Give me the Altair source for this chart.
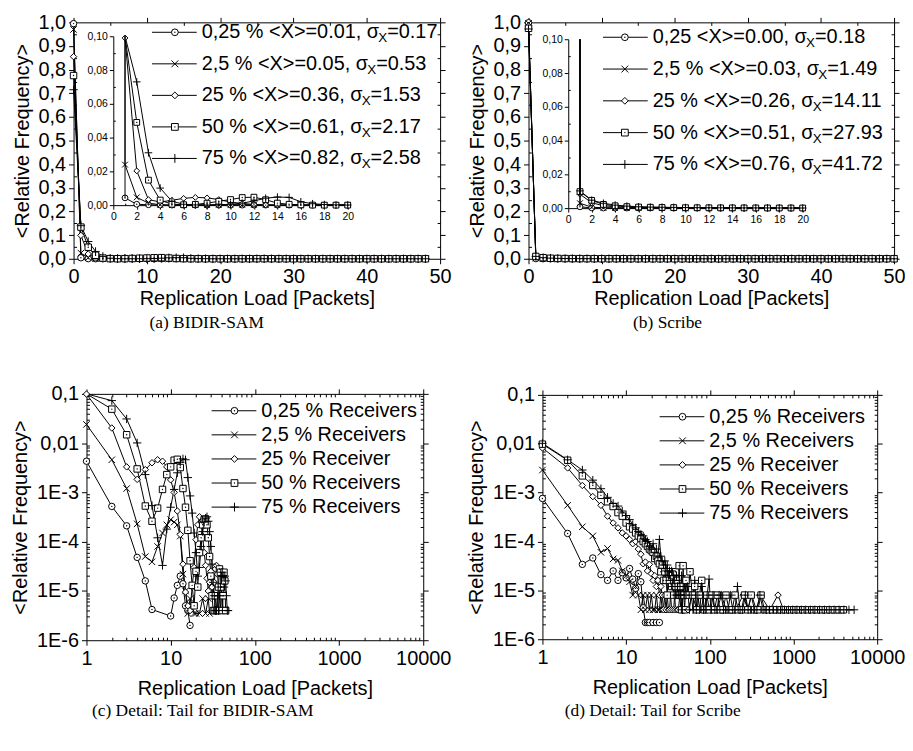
import altair as alt
import pandas as pd

FONT = "Liberation Sans"
SERIF = "Liberation Serif"
W, H = 903, 735

SERIES = ["0,25 %", "2,5 %", "25 %", "50 %", "75 %"]
SHAPES = ["circle", "M-1,-1L1,1M-1,1L1,-1", "diamond", "square", "M-1.3,0L1.3,0M0,-1.3L0,1.3"]
DOTTED = ["0,25 %", "50 %"]

# ---------------- BIDIR-SAM: relative frequency for replication load 0..48 ----------------
BIDIR_LOAD = list(range(49))
BIDIR_S1 = [0.9947, 4.3e-3, 5.2e-4, 2.1e-4, 4.8e-5, 1.6e-5, 4.2e-6, 0, 0, 0,
            3.1e-6, 7.2e-6, 1.3e-5, 2.0e-5, 1.4e-5, 5e-6, 4e-6, 2e-6, 0, 0,
            0, 0, 0, 0, 0, 0, 0, 0, 0, 0,
            0, 0, 0, 0, 0, 0, 0, 0, 0, 0,
            0, 0, 0, 0, 0, 0, 0, 0, 0]
BIDIR_S2 = [0.970, 2.4e-2, 4.6e-3, 1.2e-3, 2.3e-4, 5e-5, 3.9e-5, 8e-5, 1.5e-4, 2.2e-4,
            2.8e-4, 2.5e-4, 2.2e-4, 1.3e-4, 2.2e-5, 1e-5, 3.5e-6, 7e-6, 0, 3.5e-6,
            3.5e-6, 0, 3.5e-6, 0, 7e-6, 0, 3.5e-6, 0, 7e-6, 3.5e-6,
            0, 0, 0, 0, 0, 0, 0, 0, 0, 0,
            0, 0, 0, 0, 0, 0, 0, 0, 0]
BIDIR_S3 = [0.855, 0.099, 0.0203, 0.0033, 0.00184, 0.0029, 0.0040, 0.0046, 0.0043, 0.0033,
            0.0018, 0.0010, 4.2e-4, 1.4e-4, 3.5e-5, 9.5e-6, 5e-6, 4e-6, 1.2e-5, 3e-5,
            1.1e-4, 2.2e-4, 3.2e-4, 2.5e-4, 1.3e-4, 6e-5, 3.3e-5, 1.8e-5, 1e-5, 1.5e-5,
            2.5e-5, 1.2e-5, 8e-6, 1.5e-5, 2.8e-5, 3.3e-5, 2.2e-5, 1.2e-5, 8e-6, 4e-6,
            1.2e-5, 8e-6, 4e-6, 0, 0, 0, 0, 0, 0]
BIDIR_S4 = [0.775, 0.134, 0.049, 0.0148, 0.0030, 5.3e-4, 2.6e-4, 4.8e-4, 1.15e-3, 2.3e-3,
            3.3e-3, 4.5e-3, 4.7e-3, 3.2e-3, 1.2e-3, 5e-4, 1.7e-4, 4.1e-5, 1.3e-5, 5e-6,
            2.5e-5, 1.2e-5, 6e-5, 1.2e-4, 2.2e-4, 2.8e-4, 2.9e-4, 2.2e-4, 1.2e-4, 5e-5,
            2e-5, 8e-6, 4e-6, 4e-6, 8e-6, 4e-6, 4e-6, 1.2e-5, 2.8e-5, 2.4e-5,
            1.2e-5, 4e-6, 8e-6, 2.4e-5, 1.6e-5, 4e-6, 0, 0, 0]
BIDIR_S5 = [0.715, 0.14, 0.073, 0.031, 0.0101, 2.3e-3, 5.4e-4, 1.2e-4, 3.3e-5, 1.8e-4,
            5e-4, 1.15e-3, 2.5e-3, 4.1e-3, 4.8e-3, 4.6e-3, 2.0e-3, 8.5e-4, 3.8e-4, 1.5e-4,
            6e-5, 2e-5, 3e-5, 8e-5, 1.6e-4, 2.5e-4, 3e-4, 3.2e-4, 2.6e-4, 1.6e-4,
            8e-5, 3.5e-5, 1.5e-5, 8e-6, 4e-6, 4e-6, 8e-6, 4e-6, 8e-6, 1.2e-5,
            2e-5, 2.4e-5, 2e-5, 1.2e-5, 2e-5, 1.6e-5, 8e-6, 4e-6, 4e-6]

# ---------------- Scribe: replication load 0..50, plus sparse tails ----------------
SCRIBE_LOAD = list(range(51))
SCRIBE_S1 = [0.9985, 7.6e-4, 1.46e-4, 3.4e-5, 4.6e-5, 2.1e-5, 1.6e-5, 2.5e-5, 1.6e-5, 2.3e-5,
             1.8e-5, 2.8e-5, 1.7e-5, 1.1e-5, 2.2e-5, 1.5e-5, 4.4e-6, 2.2e-6, 2.2e-6, 2.2e-6,
             0, 2.2e-6, 0, 2.2e-6, 0, 2.2e-6, 0, 0, 0, 0,
             0, 0, 0, 0, 0, 0, 0, 0, 0, 0,
             0, 0, 0, 0, 0, 0, 0, 0, 0, 0, 0]
SCRIBE_S2 = [0.9958, 2.9e-3, 5.5e-4, 2.0e-4, 1.3e-4, 6e-5, 7.2e-5, 4.4e-5, 4.1e-5, 2.5e-5,
             2.0e-5, 1.5e-5, 8e-6, 1.2e-5, 8e-6, 4e-6, 8e-6, 4e-6, 8e-6, 4e-6,
             8e-6, 4e-6, 4e-6, 8e-6, 4e-6, 4e-6, 8e-6, 4e-6, 4e-6, 0,
             4e-6, 0, 0, 4e-6, 0, 0, 4e-6, 0, 0, 0,
             0, 0, 0, 0, 0, 0, 0, 0, 0, 0, 0]
SCRIBE_S3 = [0.985, 8.2e-3, 3.2e-3, 1.4e-3, 8.3e-4, 5.5e-4, 3.3e-4, 2.4e-4, 1.9e-4, 1.5e-4,
             1.3e-4, 1.1e-4, 9e-5, 1.0e-4, 7e-5, 5.5e-5, 3.5e-5, 3.8e-5, 2.5e-5, 3.4e-5,
             2.2e-5, 1.6e-5, 2.0e-5, 1.2e-5, 1.6e-5, 8e-6, 1.2e-5, 8e-6, 4e-6, 8e-6,
             4e-6, 8e-6, 4e-6, 4e-6, 8e-6, 4e-6, 0, 4e-6, 8e-6, 4e-6,
             0, 4e-6, 4e-6, 0, 8e-6, 4e-6, 0, 4e-6, 0, 4e-6, 0]
SCRIBE_S4 = [0.975, 9.8e-3, 4.6e-3, 2.2e-3, 1.4e-3, 8.8e-4, 6.5e-4, 5.2e-4, 3.9e-4, 3.3e-4,
             2.4e-4, 2.0e-4, 1.8e-4, 1.5e-4, 1.3e-4, 1.15e-4, 1.0e-4, 9e-5, 8e-5, 7e-5,
             6.5e-5, 6e-5, 4.5e-5, 5e-5, 4e-5, 3.5e-5, 2.4e-5, 3.3e-5, 1.6e-5, 2.4e-5,
             1.6e-5, 8e-6, 2.4e-5, 1.6e-5, 2.4e-5, 1.2e-5, 2.0e-5, 8e-6, 1.2e-5, 2.4e-5,
             1.6e-5, 8e-6, 1.2e-5, 3.2e-5, 8e-6, 1.2e-5, 4e-6, 8e-6, 3.2e-5, 8e-6, 4e-6]
SCRIBE_S5 = [0.972, 1.02e-2, 4.7e-3, 2.9e-3, 1.8e-3, 1.2e-3, 8e-4, 6e-4, 5.3e-4, 4.2e-4,
             3.4e-4, 2.8e-4, 2.2e-4, 1.9e-4, 1.6e-4, 1.4e-4, 1.3e-4, 1.1e-4, 1.0e-4, 8e-5,
             7e-5, 9e-5, 6e-5, 7e-5, 5e-5, 1.1e-4, 5e-5, 4e-5, 3.3e-5, 4e-5,
             2.5e-5, 3.3e-5, 2e-5, 2.5e-5, 1.6e-5, 2.5e-5, 1.2e-5, 2e-5, 1.6e-5, 8e-6,
             2e-5, 1.2e-5, 8e-6, 1.6e-5, 1.2e-5, 8e-6, 2e-5, 4e-6, 1.2e-5, 8e-6, 1.6e-5]

TAIL_S3_X = [55, 62, 70, 78, 86, 95, 108, 122, 138, 156, 178, 205, 250, 285, 316, 360, 400,
             520, 653, 760, 880, 1020, 1180, 1350]
TAIL_S3_Y = [4e-6, 8e-6, 4e-6, 4e-6, 8e-6, 4e-6, 4e-6, 4e-6, 8e-6, 4e-6, 4e-6, 4e-6, 8e-6,
             4e-6, 8e-6, 4e-6, 8e-6, 4e-6, 8e-6, 4e-6, 4e-6, 4e-6, 4e-6, 4e-6]
TAIL_S4_X = [52, 55, 58, 62, 66, 70, 75, 80, 86, 92, 99, 106, 114, 123, 133, 144, 156, 170,
             185, 200, 218, 238, 260, 285, 312, 342, 375, 410, 450, 500, 560, 630, 710, 800,
             900, 1010, 1140, 1290, 1460, 1650, 1870, 2120, 2400, 2720, 3080, 3500, 3950]
TAIL_S4_Y = [1.6e-5, 8e-6, 2.4e-5, 8e-6, 1.2e-5, 4e-6, 8e-6, 1.6e-5, 4e-6, 8e-6,
             4e-6, 8e-6, 4e-6, 8e-6, 4e-6, 4e-6, 8e-6, 4e-6, 4e-6, 8e-6,
             4e-6, 4e-6, 8e-6, 4e-6, 8e-6, 4e-6, 4e-6, 8e-6, 4e-6, 4e-6,
             4e-6, 4e-6, 4e-6, 4e-6, 4e-6, 4e-6, 4e-6, 4e-6, 4e-6, 4e-6,
             4e-6, 4e-6, 4e-6, 4e-6, 4e-6, 4e-6, 4e-6]
TAIL_S5_X = [52, 54, 57, 60, 63, 66, 69, 72, 76, 80, 84, 88, 93, 98, 103, 109, 115, 122, 129,
             137, 146, 155, 165, 176, 188, 200, 214, 230, 247, 266, 287, 310, 336, 365, 397,
             433, 473, 518, 570, 630, 700, 780, 870, 980, 1100, 1240, 1400, 1590, 1800, 2050,
             2340, 2670, 3050, 3500, 4000, 4600, 5300]
TAIL_S5_Y = [8e-6, 1.2e-5, 4e-6, 8e-6, 4e-6, 1.6e-5, 4e-6, 8e-6, 4e-6, 1.2e-5,
             4e-6, 4e-6, 8e-6, 1.7e-5, 4e-6, 8e-6, 4e-6, 4e-6, 8e-6, 8e-6,
             4e-6, 4e-6, 4e-6, 8e-6, 4e-6, 4e-6, 1.2e-5, 4e-6, 4e-6, 8e-6,
             4e-6, 4e-6, 4e-6, 4e-6, 8e-6, 4e-6, 4e-6, 4e-6, 4e-6, 4e-6,
             4e-6, 4e-6, 4e-6, 4e-6, 4e-6, 4e-6, 4e-6, 4e-6, 4e-6, 4e-6,
             4e-6, 4e-6, 4e-6, 4e-6, 4e-6, 4e-6, 4e-6]

# ---------------- texts ----------------
LEGEND_A_HEAD = ["0,25 % <X>=0.01, σ", "2,5 % <X>=0.05, σ", "25 % <X>=0.36, σ",
                 "50 % <X>=0.61, σ", "75 % <X>=0.82, σ"]
LEGEND_A_SIGMA = ["=0.17", "=0.53", "=1.53", "=2.17", "=2.58"]
LEGEND_B_HEAD = ["0,25 <X>=0.00, σ", "2,5 % <X>=0.03, σ", "25 % <X>=0.26, σ",
                 "50 % <X>=0.51, σ", "75 % <X>=0.76, σ"]
LEGEND_B_SIGMA = ["=0.18", "=1.49", "=14.11", "=27.93", "=41.72"]
LEGEND_CD = ["0,25 % Receivers", "2,5 % Receivers", "25 % Receiver", "50 % Receivers",
             "75 % Receivers"]
CAPTIONS = ["(a)  BIDIR-SAM", "(b)  Scribe", "(c)  Detail: Tail for BIDIR-SAM",
            "(d)  Detail: Tail for Scribe"]
X_TITLE = "Replication Load [Packets]"
Y_TITLE = "<Relative Frequency>"

# ---------------- tables ----------------
def table(load, cols):
    rows = []
    for name, vals in zip(SERIES, cols):
        for x, y in zip(load, vals):
            rows.append({"series": name, "x": x, "y": y})
    return pd.DataFrame(rows)

bidir = table(BIDIR_LOAD, [BIDIR_S1, BIDIR_S2, BIDIR_S3, BIDIR_S4, BIDIR_S5])
scribe = pd.concat([
    table(SCRIBE_LOAD, [SCRIBE_S1, SCRIBE_S2, SCRIBE_S3, SCRIBE_S4, SCRIBE_S5]),
    pd.DataFrame({"series": "25 %", "x": TAIL_S3_X, "y": TAIL_S3_Y}),
    pd.DataFrame({"series": "50 %", "x": TAIL_S4_X, "y": TAIL_S4_Y}),
    pd.DataFrame({"series": "75 %", "x": TAIL_S5_X, "y": TAIL_S5_Y}),
], ignore_index=True)

# ---------------- layout helpers (page pixels -> chart pixels) ----------------
def cx(p):
    return p - 8

def cy(p):
    return p - 8

FS = 20
AXBASE = dict(domainColor="black", tickColor="black", labelColor="black", titleColor="black",
              labelFont=FONT, titleFont=FONT, grid=False, titleFontWeight="normal",
              labelOverlap=False, labelFlush=False, domainWidth=1, tickWidth=1)

def ax(orient, pos, **kw):
    if orient == "bottom":
        off = cy(pos) - H
    elif orient == "top":
        off = -cy(pos)
    elif orient == "left":
        off = -cx(pos)
    else:
        off = cx(pos) - W
    d = dict(AXBASE)
    d.update(orient=orient, offset=off)
    d.update(kw)
    return alt.Axis(**d)

SHAPE_ENC = alt.Shape("series:N", scale=alt.Scale(domain=SERIES, range=SHAPES), legend=None)

def data_layers(df, pts, xsc, ysc, size):
    enc = dict(x=alt.X("x:Q", scale=xsc, axis=None), y=alt.Y("y:Q", scale=ysc, axis=None))
    line = alt.Chart(df).mark_line(color="black", strokeWidth=1).encode(detail="series:N", **enc)
    mk = alt.Chart(pts).mark_point(filled=True, fill="white", stroke="black", strokeWidth=1,
                                   size=size, opacity=1).encode(shape=SHAPE_ENC, **enc)
    dots = alt.Chart(pts[pts.series.isin(DOTTED)]).mark_circle(color="black", size=2, opacity=1).encode(**enc)
    return [line, mk, dots]

def guide(xsc, ysc, xd, yd, xa, ya):
    g = pd.DataFrame({"x": [xd], "y": [yd]})
    return alt.Chart(g).mark_point(opacity=0, size=1).encode(
        x=alt.X("x:Q", scale=xsc, axis=xa), y=alt.Y("y:Q", scale=ysc, axis=ya))

LIN_X = "format(datum.value, 'd')"
LIN_Y1 = "replace(format(datum.value, '.1f'), '.', ',')"
LIN_Y2 = "replace(format(datum.value, '.2f'), '.', ',')"
LOG_Y = "datum.value > 0.05 ? '0,1' : datum.value > 0.005 ? '0,01' : '1E' + round(log(datum.value) / LN10)"

def box_guides(xsc, ysc, fr, xmaj, xmin, ymaj, ymin, ylab, xtitle_pad, ytitle_pad):
    xd, yd = xmaj[0], ymaj[0]
    common_lab = dict(labelFontSize=FS, titleFontSize=FS, tickSize=5, labelPadding=3)
    g1 = guide(xsc, ysc, xd, yd,
               ax("bottom", fr["yb"], values=xmaj, labelExpr=LIN_X, title=X_TITLE,
                  titlePadding=xtitle_pad, **common_lab),
               ax("left", fr["xl"], values=ymaj, labelExpr=ylab, title=Y_TITLE,
                  titlePadding=ytitle_pad, **common_lab))
    g2 = guide(xsc, ysc, xd, yd,
               ax("top", fr["yt"], values=xmaj, labels=False, title=None, tickSize=5),
               ax("right", fr["xr"], values=ymaj, labels=False, title=None, tickSize=5))
    g3 = guide(xsc, ysc, xd, yd,
               ax("top", fr["yb"], values=xmin, labels=False, domain=False, title=None, tickSize=3),
               ax("right", fr["xl"], values=ymin, labels=False, domain=False, title=None, tickSize=3))
    g4 = guide(xsc, ysc, xd, yd,
               ax("bottom", fr["yt"], values=xmin, labels=False, domain=False, title=None, tickSize=3),
               ax("left", fr["xr"], values=ymin, labels=False, domain=False, title=None, tickSize=3))
    return [g1, g2, g3, g4]

def inset_guides(xsc, ysc, fr, xmaj, xmin, ymaj, ymin):
    xd, yd = xmaj[0], ymaj[0]
    lab = dict(labelFontSize=10.5, tickSize=4, labelPadding=2, title=None)
    g1 = guide(xsc, ysc, xd, yd,
               ax("bottom", fr["yb"], values=xmaj, labelExpr=LIN_X, **lab),
               ax("left", fr["xl"], values=ymaj, labelExpr=LIN_Y2, **lab))
    g2 = guide(xsc, ysc, xd, yd,
               ax("top", fr["yb"], values=xmin, labels=False, domain=False, title=None, tickSize=2),
               ax("right", fr["xl"], values=ymin, labels=False, domain=False, title=None, tickSize=2))
    return [g1, g2]

def lin(dom, lo, hi, clamp=False):
    return alt.Scale(type="linear", domain=dom, range=[lo, hi], nice=False, zero=False, clamp=clamp)

def logs(dom, lo, hi, clamp=False):
    return alt.Scale(type="log", domain=dom, range=[lo, hi], nice=False, clamp=clamp)

# frames (page pixel positions)
FA = dict(xl=74, xr=443, yt=20, yb=258)
FIA = dict(xl=114, xr=350, yt=34, yb=204)
FB = dict(xl=532, xr=900, yt=20, yb=258)
FIB = dict(xl=572, xr=808, yt=37, yb=207)
FC = dict(xl=87, xr=426, yt=394, yb=642)
FD = dict(xl=546, xr=883, yt=395, yb=641)

X_MAJ_LIN = [0, 10, 20, 30, 40, 50]
X_MIN_LIN = [5, 15, 25, 35, 45]
Y_MAJ_LIN = [0.0, 0.1, 0.2, 0.3, 0.4, 0.5, 0.6, 0.7, 0.8, 0.9, 1.0]
Y_MIN_LIN = [0.05, 0.15, 0.25, 0.35, 0.45, 0.55, 0.65, 0.75, 0.85, 0.95]
XI_MAJ = [0, 2, 4, 6, 8, 10, 12, 14, 16, 18, 20]
XI_MIN = [1, 3, 5, 7, 9, 11, 13, 15, 17, 19]
YI_MAJ = [0.0, 0.02, 0.04, 0.06, 0.08, 0.10]
YI_MIN = [0.01, 0.03, 0.05, 0.07, 0.09]
X_MAJ_LOG = [1, 10, 100, 1000, 10000]
X_MIN_LOG = [m * d for d in [1, 10, 100, 1000] for m in range(2, 10)]
Y_MAJ_LOG = [1e-6, 1e-5, 1e-4, 1e-3, 1e-2, 1e-1]
Y_MIN_LOG = [m * d for d in [1e-6, 1e-5, 1e-4, 1e-3, 1e-2] for m in range(2, 10)]

INSET_TOP = 0.10

def main_linear(df, fr):
    xsc = lin([0, 50], cx(fr["xl"]), cx(fr["xr"]))
    ysc = lin([0, 1], cy(fr["yb"]), cy(fr["yt"]))
    layers = data_layers(df, df, xsc, ysc, 42)
    layers += box_guides(xsc, ysc, fr, X_MAJ_LIN, X_MIN_LIN, Y_MAJ_LIN, Y_MIN_LIN, LIN_Y1, 2, 6)
    return alt.layer(*layers).resolve_axis(x="independent", y="independent")

def inset(df, fr):
    xsc = lin([0, 20], cx(fr["xl"]), cx(fr["xr"]))
    ysc = lin([0, INSET_TOP], cy(fr["yb"]), cy(fr["yt"]), clamp=True)
    d = df[(df.x >= 1) & (df.x <= 20)]
    pts = d[d.y <= INSET_TOP]
    layers = data_layers(d, pts, xsc, ysc, 34)
    first = d[d.x == 1]
    layers.append(alt.Chart(first).mark_rule(color="black", strokeWidth=1).encode(
        x=alt.X("x:Q", scale=xsc, axis=None), y=alt.Y("y:Q", scale=ysc, axis=None),
        y2=alt.datum(INSET_TOP)))
    layers += inset_guides(xsc, ysc, fr, XI_MAJ, XI_MIN, YI_MAJ, YI_MIN)
    return alt.layer(*layers).resolve_axis(x="independent", y="independent")

def main_log(df, fr):
    xsc = logs([1, 10000], cx(fr["xl"]), cx(fr["xr"]))
    ysc = logs([1e-6, 0.1], cy(fr["yb"]), cy(fr["yt"]), clamp=True)
    d = df[(df.x >= 1) & (df.y > 0)]
    pts = d[d.y <= 0.1]
    layers = data_layers(d, pts, xsc, ysc, 42)
    layers += box_guides(xsc, ysc, fr, X_MAJ_LOG, X_MIN_LOG, Y_MAJ_LOG, Y_MIN_LOG, LOG_Y, 11, 6)
    return alt.layer(*layers).resolve_axis(x="independent", y="independent")

# ---------------- legends ----------------
ARIAL = {**{c: 0.556 for c in "0123456789"}, ",": 0.278, ".": 0.278, " ": 0.278, "%": 0.889,
         "<": 0.584, ">": 0.584, "=": 0.584, "X": 0.667, "σ": 0.574}

def tw(s, size):
    return size * sum(ARIAL.get(c, 0.556) for c in s)

LEG_FS = 20
SUB_FS = 13.5

def legend_symbols(x0, x1, xm, y1, y5):
    df = pd.DataFrame({"series": SERIES})
    rows = alt.Scale(type="point", domain=SERIES, range=[cy(y1), cy(y5)], padding=0)
    yenc = alt.Y("series:N", scale=rows, axis=None)
    rule = alt.Chart(df).mark_rule(color="black", strokeWidth=1).encode(
        x=alt.value(cx(x0)), x2=alt.value(cx(x1)), y=yenc)
    mk = alt.Chart(df).mark_point(filled=True, fill="white", stroke="black", strokeWidth=1,
                                  size=46, opacity=1).encode(x=alt.value(cx(xm)), y=yenc, shape=SHAPE_ENC)
    dots = alt.Chart(df[df.series.isin(DOTTED)]).mark_circle(color="black", size=2, opacity=1).encode(
        x=alt.value(cx(xm)), y=yenc)
    return [rule, mk, dots], yenc

def legend_plain(labels, x0, x1, xm, xt, y1, y5):
    layers, yenc = legend_symbols(x0, x1, xm, y1, y5)
    df = pd.DataFrame({"series": SERIES, "label": labels})
    layers.append(alt.Chart(df).mark_text(align="left", baseline="middle", font=FONT,
                                          fontSize=LEG_FS, color="black").encode(
        x=alt.value(cx(xt)), y=yenc, text="label:N"))
    return alt.layer(*layers)

def legend_sigma(heads, sigmas, x0, x1, xm, xt, y1, y5):
    layers, yenc = legend_symbols(x0, x1, xm, y1, y5)
    for i, (h, s) in enumerate(zip(heads, sigmas)):
        yy = cy(y1 + i * (y5 - y1) / 4)
        one = pd.DataFrame({"h": [h], "sub": ["X"], "s": [s]})
        w1 = tw(h, LEG_FS)
        w2 = tw("X", SUB_FS)
        layers.append(alt.Chart(one).mark_text(align="left", baseline="middle", font=FONT,
                                               fontSize=LEG_FS, color="black").encode(
            x=alt.value(cx(xt)), y=alt.value(yy), text="h:N"))
        layers.append(alt.Chart(one).mark_text(align="left", baseline="middle", font=FONT,
                                               fontSize=SUB_FS, color="black", dy=6).encode(
            x=alt.value(cx(xt) + w1), y=alt.value(yy), text="sub:N"))
        layers.append(alt.Chart(one).mark_text(align="left", baseline="middle", font=FONT,
                                               fontSize=LEG_FS, color="black").encode(
            x=alt.value(cx(xt) + w1 + w2), y=alt.value(yy), text="s:N"))
    return alt.layer(*layers)

def caption(text, xc, yc):
    d = pd.DataFrame({"t": [text]})
    return alt.Chart(d).mark_text(align="center", baseline="middle", font=SERIF, fontSize=17.5,
                                  color="black").encode(x=alt.value(cx(xc)), y=alt.value(cy(yc)), text="t:N")

layers = [
    main_linear(bidir, FA),
    inset(bidir, FIA),
    legend_sigma(LEGEND_A_HEAD, LEGEND_A_SIGMA, 153, 198, 176, 203, 30, 157),
    main_linear(scribe[scribe.x <= 50], FB),
    inset(scribe, FIB),
    legend_sigma(LEGEND_B_HEAD, LEGEND_B_SIGMA, 607, 652, 629, 657, 35, 163),
    main_log(bidir, FC),
    legend_plain(LEGEND_CD, 213, 258, 236, 263, 411, 508),
    main_log(scribe, FD),
    legend_plain(LEGEND_CD, 664, 709, 687, 714, 417, 514),
    caption(CAPTIONS[0], 208, 323),
    caption(CAPTIONS[1], 672, 323),
    caption(CAPTIONS[2], 204, 713),
    caption(CAPTIONS[3], 657, 713),
]

chart = alt.layer(*layers).resolve_scale(x="independent", y="independent").properties(
    width=W, height=H, padding=0, autosize=alt.AutoSizeParams(type="none")
).configure_view(stroke=None)

chart.save("out.html", embed_options={"renderer": "svg", "actions": False})
